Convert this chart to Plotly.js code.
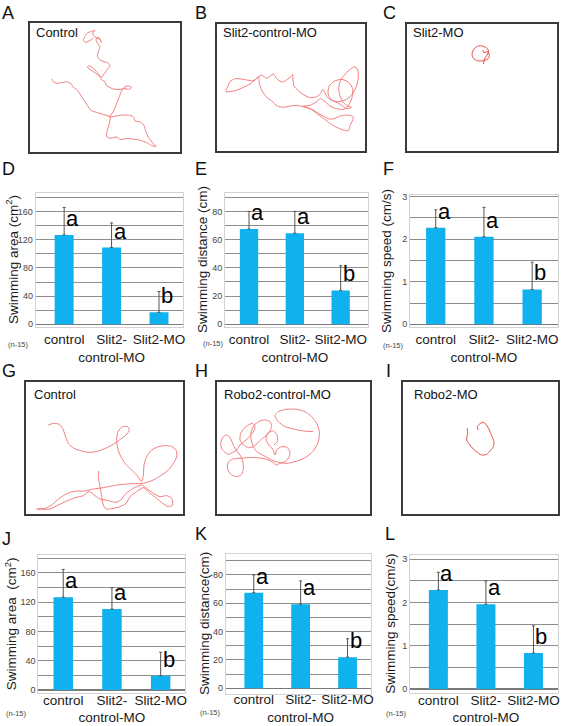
<!DOCTYPE html>
<html><head><meta charset="utf-8">
<script src="https://cdn.plot.ly/plotly-3.0.1.min.js"></script>
<style>html,body{margin:0;padding:0;background:#fff;}#chart{width:567px;height:726px;}</style>
</head><body><div id="chart"></div>
<script>
// ---------------- DATA ----------------
const tickLabels = ['control', 'Slit2-<br>control-MO', 'Slit2-MO'];
const sigLetters = ['a', 'a', 'b'];

const areaTickVals = [0, 40, 80, 120, 160];
const areaTickText = ['0', '40', '80', '120', '160'];
const areaGridVals = [20, 60, 100, 140, 180];
const distTickVals = [0, 20, 40, 60, 80];
const distTickText = ['0', '20', '40', '60', '80'];
const distGridVals = [10, 30, 50, 70, 90];
const speedTickVals = [0, 1, 2, 3];
const speedTickText = ['0', '1', '2', '3'];
const speedGridVals = [0.5, 1.5, 2.5];

// Slit2 experiment (D, E, F)
const slitArea = [127, 109, 17];
const slitAreaErr = [39, 35, 29.5];
const slitDist = [67.5, 64.5, 24];
const slitDistErr = [12.5, 15.5, 17.5];
const slitSpeed = [2.27, 2.06, 0.82];
const slitSpeedErr = [0.42, 0.69, 0.64];

// Robo2 experiment (J, K, L)
const roboArea = [126.5, 110.5, 19.5];
const roboAreaErr = [38, 29, 32];
const roboDist = [67.5, 59.3, 22];
const roboDistErr = [12.5, 16.5, 13];
const roboSpeed = [2.29, 1.96, 0.83];
const roboSpeedErr = [0.41, 0.54, 0.63];

// Swimming trajectories (image units of each arena)
const trajAx = [155,160,170,185,200,212,220,232,242,250,262,272,290,310,330,328,322,320,335,348,362,378,395,412,428,442,455,468,458,448,440,435,430,418,405,400,385,365,345,330,342,350,358,365,372,385,395,388,375,360,345,330,318,315,305,300,290,275,262,268,280,292,305,312,322,330,322,310,300,292,295,300,292,288,295,305,298,285,278,285,275,262,255,250,258,270,280];
const trajAy = [237,245,250,248,246,250,262,270,285,298,315,330,337,343,350,370,390,410,414,410,418,415,416,418,422,428,436,438,428,415,400,385,372,365,362,350,345,345,348,350,330,310,290,272,262,258,262,268,266,268,268,263,255,245,240,232,222,212,202,198,205,218,232,222,208,198,188,185,180,170,155,142,130,120,112,128,118,112,100,92,95,100,110,122,128,122,115];

const trajBx = [308,309,312,325,342,362,380,392,398,405,412,428,445,458,470,484,470,458,450,446,450,462,478,495,503,505,498,485,465,442,422,414,418,432,455,475,488,486,478,462,440,420,405,392,378,360,340,360,380,400,420,440,460,475,480,488,490,470,450,432,418,400,385,365,345,320,300,280,262,245,228,215,208,205,195,180,160,135,108,112,120,135,160,185,198,205,215,230,250,262,278,292,305];
const trajBy = [222,240,258,272,285,293,290,280,268,278,292,302,310,318,326,322,316,305,288,268,246,226,210,200,210,235,262,285,300,305,298,280,258,244,238,246,266,292,312,328,326,318,305,296,306,316,318,326,340,355,370,382,390,392,378,360,350,345,348,356,357,348,340,328,322,316,318,322,318,303,290,270,250,230,240,252,262,272,275,262,245,236,238,242,238,230,225,235,222,238,246,238,228];

const trajCx = [878,882,893,898,895,887,875,862,850,846,850,860,872,885,895,893,886,882,880];
const trajCy = [150,158,155,165,175,180,183,182,175,163,150,140,137,141,150,162,172,182,192];

const trajGx = [145,160,178,188,195,205,222,245,270,295,320,340,358,378,388,383,368,355,350,352,360,375,395,410,425,430,432,440,455,475,498,515,528,530,520,505,485,460,430,400,370,340,310,280,255,230,210,190,172,155,135,110,150,175,200,225,250,268,285,300,315,330,345,362,378,400,425,440,460,480,500,515,518,505,488,470,450,430,410,390,378,360,340,318,310,305,300,295,296];
const trajGy = [180,175,178,190,210,235,250,258,262,258,248,238,225,210,195,185,185,198,220,245,270,295,315,330,350,330,300,275,255,245,242,245,255,275,295,315,330,345,355,356,358,362,368,372,378,378,382,392,405,420,430,432,432,420,408,398,392,380,392,402,405,408,412,405,385,370,360,370,385,395,392,400,420,425,415,400,385,368,380,395,415,425,430,432,420,395,365,335,318];

const trajHx = [370,340,310,285,265,255,265,290,320,345,365,380,388,385,370,345,315,290,265,245,222,200,188,182,185,195,210,225,240,245,238,228,215,205,190,175,160,150,152,162,175,188,195,190,178,165,150,140,128,115,105,95,92,100,108,118,125,132,140,150,158,160,155,140,125,115,112,118,130,150,175,200,225,245,260,270,285,295,300,292,275,260,255,248,236,228,234,250,262,262,252];
const trajHy = [200,198,192,185,170,152,140,133,133,140,155,175,200,230,258,278,290,295,292,285,272,260,240,215,195,178,168,165,170,185,200,212,222,232,245,248,240,225,205,190,180,175,185,200,215,228,240,255,262,268,262,250,235,215,210,215,228,245,258,270,288,310,328,335,330,318,300,288,282,280,278,278,282,290,300,295,290,280,262,248,245,255,270,252,240,222,204,198,212,230,240];

const trajIx = [832,833,830,840,850,862,875,890,900,910,912,905,898,888,878,868,862,865];
const trajIy = [190,205,225,240,252,262,270,268,258,245,230,212,195,178,172,178,185,195];

// ---------------- LAYOUT HELPERS ----------------
const W = 567, H = 726;
const dX = (l, r) => [l / W, r / W];
const dY = (t, b) => [1 - b / H, 1 - t / H];
const BLUE = '#0FB1EE';
const RED = '#F27C7C';

const traces = [];
const layout = {
  width: W, height: H, margin: {l: 0, r: 0, t: 0, b: 0},
  paper_bgcolor: '#fff', plot_bgcolor: '#fff', showlegend: false,
  font: {family: 'Liberation Sans, Arial, sans-serif', color: '#1a1a1a'},
  annotations: [], shapes: []
};

function trajPanel(n, xs, ys, color, box, xr, yr) {
  traces.push({type: 'scatter', mode: 'lines', x: xs, y: ys, xaxis: 'x' + n, yaxis: 'y' + n,
    line: {color: color, width: 1, shape: 'spline', smoothing: 0.7}, hoverinfo: 'skip'});
  const ax = {showline: true, mirror: true, linecolor: '#3a3a3a', linewidth: 2, showgrid: false,
    zeroline: false, showticklabels: false, ticks: '', fixedrange: true};
  layout['xaxis' + n] = Object.assign({}, ax, {domain: dX(box[0], box[1]), range: xr, anchor: 'y' + n});
  layout['yaxis' + n] = Object.assign({}, ax, {domain: dY(box[2], box[3]), range: yr, anchor: 'x' + n});
}

function barPanel(n, vals, errs, box, xr, yr, tv, tt, gv, title, titleX, standoff) {
  traces.push({type: 'bar', x: tickLabels, y: vals, width: 0.4, xaxis: 'x' + n, yaxis: 'y' + n,
    marker: {color: BLUE, line: {width: 0}},
    error_y: {type: 'data', symmetric: false, array: errs, arrayminus: errs.map(() => 0),
      color: '#555', thickness: 1, width: 1.5},
    hoverinfo: 'skip'});
  layout['xaxis' + n] = {domain: dX(box[0], box[1]), anchor: 'y' + n, type: 'category', range: xr,
    showline: true, mirror: true, linecolor: '#d3d3d3', linewidth: 1, ticks: '', showgrid: false,
    zeroline: false, tickangle: 0, ticklabelstandoff: standoff,
    tickfont: {size: 13.5, color: '#1a1a1a'}, fixedrange: true};
  layout['yaxis' + n] = {domain: dY(box[2], box[3]), anchor: 'x' + n, range: yr,
    tickmode: 'array', tickvals: tv, ticktext: tt, ticks: '',
    showline: true, mirror: true, linecolor: '#d3d3d3', linewidth: 1,
    showgrid: true, gridcolor: '#8e8e8e', gridwidth: 1,
    minor: {tickmode: 'array', tickvals: gv, showgrid: true, gridcolor: '#8e8e8e', gridwidth: 1, ticks: ''},
    zeroline: true, zerolinecolor: '#7a7a7a', zerolinewidth: 1.5,
    tickfont: {size: 9, color: '#444'}, fixedrange: true};
  for (let i = 0; i < vals.length; i++) {
    layout.annotations.push({xref: 'x' + n, yref: 'y' + n, x: tickLabels[i], y: vals[i],
      text: sigLetters[i], showarrow: false, xanchor: 'left', yanchor: 'bottom', xshift: 0, yshift: 2,
      font: {size: 22, color: '#000'}});
  }
  layout.annotations.push({xref: 'paper', yref: 'paper', x: titleX / W,
    y: 1 - (box[2] + box[3]) / 2 / H, text: title, textangle: -90, showarrow: false,
    xanchor: 'center', yanchor: 'middle', font: {size: 13.5, color: '#1a1a1a'}});
}

// Trajectory panels
trajPanel(1, trajAx, trajAy, RED, [30, 180, 23, 152], [90, 540], [455, 70]);
trajPanel(2, trajBx, trajBy, RED, [216.7, 365, 24, 150.7], [80, 525], [452, 72]);
trajPanel(3, trajCx, trajCy, '#E84848', [406.7, 556.7, 24, 150.7], [650, 1100], [452, 72]);
trajPanel(7, trajGx, trajGy, RED, [26, 182.7, 381.7, 514], [78, 548], [447, 50]);
trajPanel(8, trajHx, trajHy, RED, [216.7, 370, 382.3, 514], [80, 540], [447, 52]);
trajPanel(9, trajIx, trajIy, '#E84848', [403.3, 558.3, 382.3, 514], [640, 1105], [447, 52]);

// Bar panels
barPanel(4, slitArea, slitAreaErr, [35.7, 182.7, 193, 327], [-0.6, 2.5], [-3.8, 186.5],
  areaTickVals, areaTickText, areaGridVals, 'Swimming area (cm<sup>2</sup>)', 12, 0);
barPanel(5, slitDist, slitDistErr, [225, 367.7, 193, 327], [-0.524, 2.59], [-1.9, 93],
  distTickVals, distTickText, distGridVals, 'Swimming distance (cm)', 202, 0);
barPanel(6, slitSpeed, slitSpeedErr, [410, 557.7, 195, 327], [-0.534, 2.53], [-0.063, 3.04],
  speedTickVals, speedTickText, speedGridVals, 'Swimming speed (cm/s)', 386, 0);
barPanel(10, roboArea, roboAreaErr, [38.3, 185, 555, 692.7], [-0.512, 2.5], [-3.7, 184.2],
  areaTickVals, areaTickText, areaGridVals, 'Swimming area  (cm<sup>2</sup>)', 10.5, -5);
barPanel(11, roboDist, roboDistErr, [225.7, 371, 554, 694], [-0.598, 2.5], [-4, 94.8],
  distTickVals, distTickText, distGridVals, 'Swimming distance(cm)', 204, -7);
barPanel(12, roboSpeed, roboSpeedErr, [410, 557.7, 555, 692.7], [-0.597, 2.51], [-0.086, 3.1],
  speedTickVals, speedTickText, speedGridVals, 'Swimming speed(cm/s)', 391, -5);

// Text labels
function txt(x, y, s, size, anchor, color) {
  layout.annotations.push({xref: 'paper', yref: 'paper', x: x / W, y: 1 - y / H, text: s,
    showarrow: false, xanchor: anchor || 'left', yanchor: 'middle',
    font: {size: size, color: color || '#111'}});
}
const panelLetters = [['A', 0, 13.5], ['B', 193, 13], ['C', 381, 13], ['D', 0, 169], ['E', 193, 169], ['F', 381, 169],
  ['G', 0, 370.5], ['H', 193, 370.5], ['I', 384, 370.5], ['J', 0, 539], ['K', 193, 534], ['L', 383, 534]];
panelLetters.forEach(p => txt(p[1], p[2], p[0], 18, 'left', '#111'));

txt(34, 33, 'Control', 13, 'left');
txt(221, 33, 'Slit2-control-MO', 13, 'left');
txt(411, 33, 'Slit2-MO', 13, 'left');
txt(32, 394, 'Control', 13, 'left');
txt(222, 394, 'Robo2-control-MO', 13, 'left');
txt(412, 394, 'Robo2-MO', 13, 'left');

[[18, 344], [213, 343.5], [393, 345], [16, 713], [210, 712], [396, 713]].forEach(p =>
  txt(p[0], p[1], '(n-15)', 7.5, 'center', '#444'));

Plotly.newPlot('chart', traces, layout, {staticPlot: true, displayModeBar: false});
</script>
</body></html>
